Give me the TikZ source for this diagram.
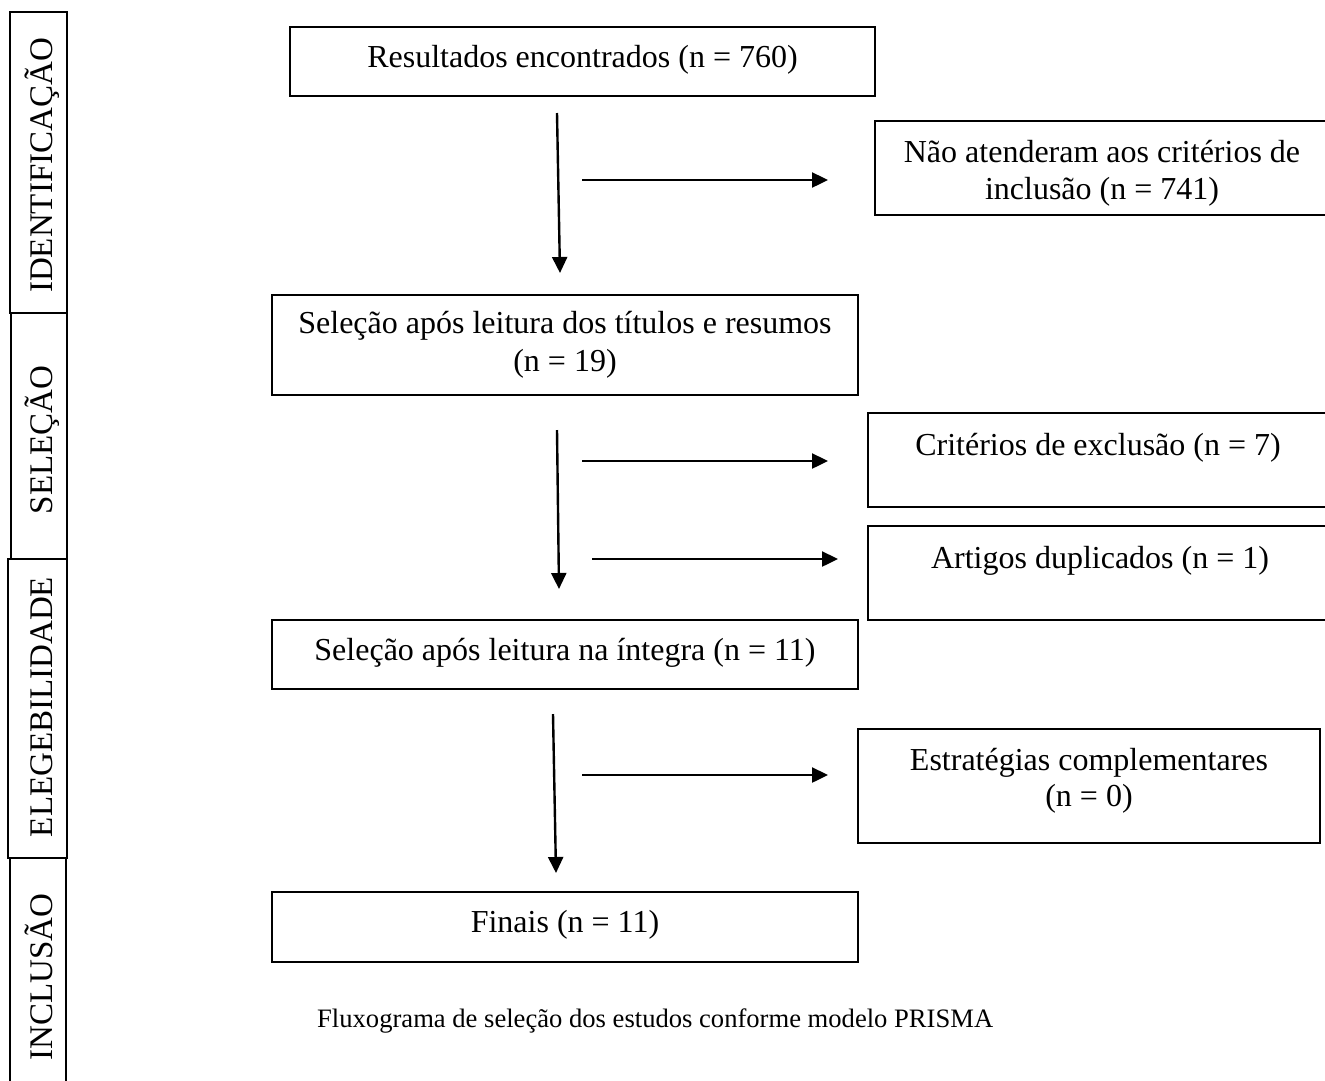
\documentclass[tikz,border=0pt]{standalone}
\usepackage{fontspec}
\setmainfont{Liberation Serif}
\usetikzlibrary{arrows.meta}
\begin{document}
\begin{tikzpicture}[x=1pt,y=-1pt]
\tikzset{
  boxshape/.style={draw, line width=2pt, rectangle, inner sep=0pt, outer sep=0pt},
  txt/.style={font=\fontsize{32}{37}\selectfont, inner sep=0pt, anchor=base},
  side/.style={font=\fontsize{33}{38}\selectfont, rotate=90, anchor=base, inner sep=0pt},
  arr/.style={line width=2.4pt, -{Triangle[length=16pt,width=15pt]}},
  captxt/.style={font=\fontsize{26.6}{30}\selectfont, inner sep=0pt, anchor=base west}
}
\useasboundingbox (0,0) rectangle (1325,1080);
% side bars
\node[boxshape, minimum width=57pt, minimum height=301pt] (s1) at (38.5,162.5) {};
\node[boxshape, minimum width=56pt, minimum height=246pt] (s2) at (39,436) {};
\node[boxshape, minimum width=59pt, minimum height=299pt] (s3) at (37.5,708.5) {};
\node[boxshape, minimum width=56pt, minimum height=232pt] (s4) at (38,974) {};
\node[side] (l1) at (52,165.5) {IDENTIFICAÇÃO};
\node[side] (l2) at (52,440) {SELEÇÃO};
\node[side] (l3) at (52,707) {ELEGEBILIDADE};
\node[side] (l4) at (52,977) {INCLUSÃO};
% boxes
\node[boxshape, minimum width=585pt, minimum height=69pt] (b1) at (582.5,61.5) {};
\node[boxshape, minimum width=452pt, minimum height=94pt] (b2) at (1101,168) {};
\node[boxshape, minimum width=586pt, minimum height=100pt] (b3) at (565,345) {};
\node[boxshape, minimum width=459pt, minimum height=94pt] (b4) at (1097.5,460) {};
\node[boxshape, minimum width=459pt, minimum height=94pt] (b5) at (1097.5,573) {};
\node[boxshape, minimum width=586pt, minimum height=69pt] (b6) at (565,654.5) {};
\node[boxshape, minimum width=462pt, minimum height=114pt] (b7) at (1089,786) {};
\node[boxshape, minimum width=586pt, minimum height=70pt] (b8) at (565,927) {};
% texts
\node[txt] (b1t) at (582.5,67) {Resultados encontrados (n = 760)};
\node[txt] (b2ta) at (1102,162) {Não atenderam aos critérios de};
\node[txt] (b2tb) at (1102,199) {inclusão (n = 741)};
\node[txt] (b3ta) at (565,333) {Seleção após leitura dos títulos e resumos};
\node[txt] (b3tb) at (565,371) {(n = 19)};
\node[txt] (b4t) at (1098,455) {Critérios de exclusão (n = 7)};
\node[txt] (b5t) at (1100,568) {Artigos duplicados (n = 1)};
\node[txt] (b6t) at (565,660) {Seleção após leitura na íntegra (n = 11)};
\node[txt] (b7ta) at (1089,770) {Estratégias complementares};
\node[txt] (b7tb) at (1089,806) {(n = 0)};
\node[txt] (b8t) at (565,932) {Finais (n = 11)};
\node[captxt] (cap) at (317,1027) {Fluxograma de seleção dos estudos conforme modelo PRISMA};
% arrows
\coordinate (a1s) at (557,113); \coordinate (a1e) at (560,273);
\coordinate (h1s) at (582,180); \coordinate (h1e) at (828,180);
\coordinate (a2s) at (557,430); \coordinate (a2e) at (559,589);
\coordinate (h2s) at (582,461); \coordinate (h2e) at (828,461);
\coordinate (h3s) at (592,559); \coordinate (h3e) at (838,559);
\coordinate (a3s) at (553,714); \coordinate (a3e) at (556,873);
\coordinate (h4s) at (582,775); \coordinate (h4e) at (828,775);
\draw[arr] (a1s) -- (a1e);
\draw[arr] (h1s) -- (h1e);
\draw[arr] (a2s) -- (a2e);
\draw[arr] (h2s) -- (h2e);
\draw[arr] (h3s) -- (h3e);
\draw[arr] (a3s) -- (a3e);
\draw[arr] (h4s) -- (h4e);
\end{tikzpicture}
\end{document}
